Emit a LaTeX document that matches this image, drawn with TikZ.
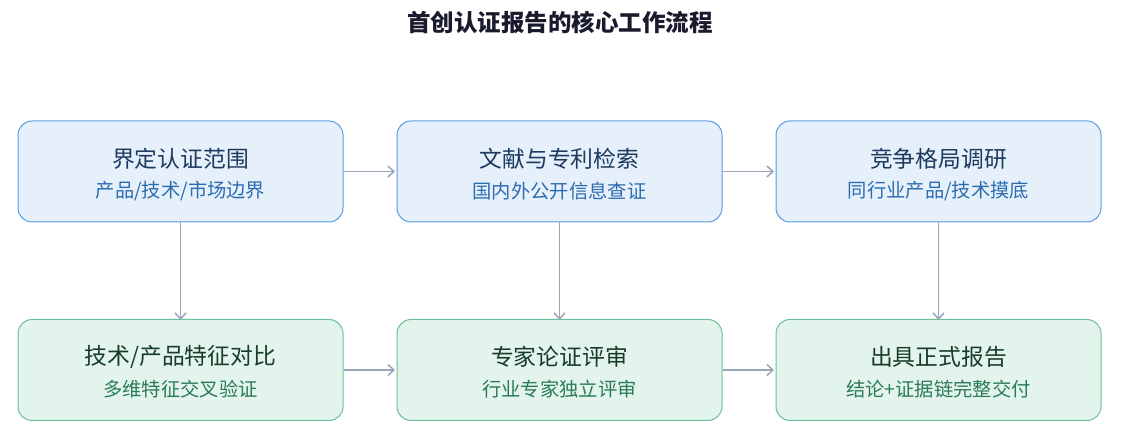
\documentclass[tikz,border=0pt]{standalone}
\usepackage{fontspec}
\setmainfont{Noto Sans CJK SC}
\usetikzlibrary{arrows.meta}
\definecolor{bluefill}{HTML}{E6F0FB}
\definecolor{blueline}{HTML}{5B9BE0}
\definecolor{bluehead}{HTML}{1E3A5F}
\definecolor{bluesub}{HTML}{2B6CB0}
\definecolor{greenfill}{HTML}{E2F4EB}
\definecolor{greenline}{HTML}{6CBF98}
\definecolor{greenhead}{HTML}{173B2C}
\definecolor{greensub}{HTML}{2B7A5C}
\definecolor{arrowgray}{HTML}{9AA5B8}
\definecolor{titlecol}{HTML}{1A1A2E}
\tikzset{
  stagebox/.style={rounded corners=14pt, minimum width=325pt, minimum height=101pt, line width=1pt, inner sep=0pt},
  bluebox/.style={stagebox, fill=bluefill, draw=blueline},
  greenbox/.style={stagebox, fill=greenfill, draw=greenline},
  headtext/.style={font=\fontsize{22.8pt}{25pt}\selectfont, anchor=center, inner sep=0pt},
  subtext/.style={font=\fontsize{19.3pt}{22pt}\selectfont, anchor=center, inner sep=0pt},
  flow/.style={draw=arrowgray, line width=1.7pt, -{Straight Barb[length=6pt,width=11pt,line width=1.5pt]}},
}
\begin{document}
\begin{tikzpicture}[x=1pt,y=-1pt]
\useasboundingbox (0,0) rectangle (1133,427);
\node[font=\fontsize{23.5pt}{26pt}\selectfont\bfseries, text=titlecol, inner sep=0pt] (title) at (560,22) {首创认证报告的核心工作流程};

\node[bluebox] (b1) at (180.5,171.5) {};
\node[bluebox] (b2) at (559.5,171.5) {};
\node[bluebox] (b3) at (938.5,171.5) {};
\node[greenbox] (g1) at (180.5,370) {};
\node[greenbox] (g2) at (559.5,370) {};
\node[greenbox] (g3) at (938.5,370) {};

\node[headtext, text=bluehead] (b1h) at (180.5,159) {界定认证范围};
\node[subtext, text=bluesub] (b1s) at (180.5,191) {产品/技术/市场边界};
\node[headtext, text=bluehead] (b2h) at (559.5,159) {文献与专利检索};
\node[subtext, text=bluesub] (b2s) at (559.5,191) {国内外公开信息查证};
\node[headtext, text=bluehead] (b3h) at (938.5,159) {竞争格局调研};
\node[subtext, text=bluesub] (b3s) at (938.5,191) {同行业产品/技术摸底};

\node[headtext, text=greenhead] (g1h) at (180.5,357) {技术/产品特征对比};
\node[subtext, text=greensub] (g1s) at (180.5,389) {多维特征交叉验证};
\node[headtext, text=greenhead] (g2h) at (559.5,357) {专家论证评审};
\node[subtext, text=greensub] (g2s) at (559.5,389) {行业专家独立评审};
\node[headtext, text=greenhead] (g3h) at (938.5,357) {出具正式报告};
\node[subtext, text=greensub] (g3s) at (938.5,389) {结论+证据链完整交付};

\draw[flow] (b1.east) -- ([xshift=-1.5pt]b2.west);
\draw[flow] (b2.east) -- ([xshift=-1.5pt]b3.west);
\draw[flow] (g1.east) -- ([xshift=-1.5pt]g2.west);
\draw[flow] (g2.east) -- ([xshift=-1.5pt]g3.west);
\draw[flow] (b1.south) -- ([yshift=-1pt]g1.north);
\draw[flow] (b2.south) -- ([yshift=-1pt]g2.north);
\draw[flow] (b3.south) -- ([yshift=-1pt]g3.north);
\end{tikzpicture}
\end{document}
